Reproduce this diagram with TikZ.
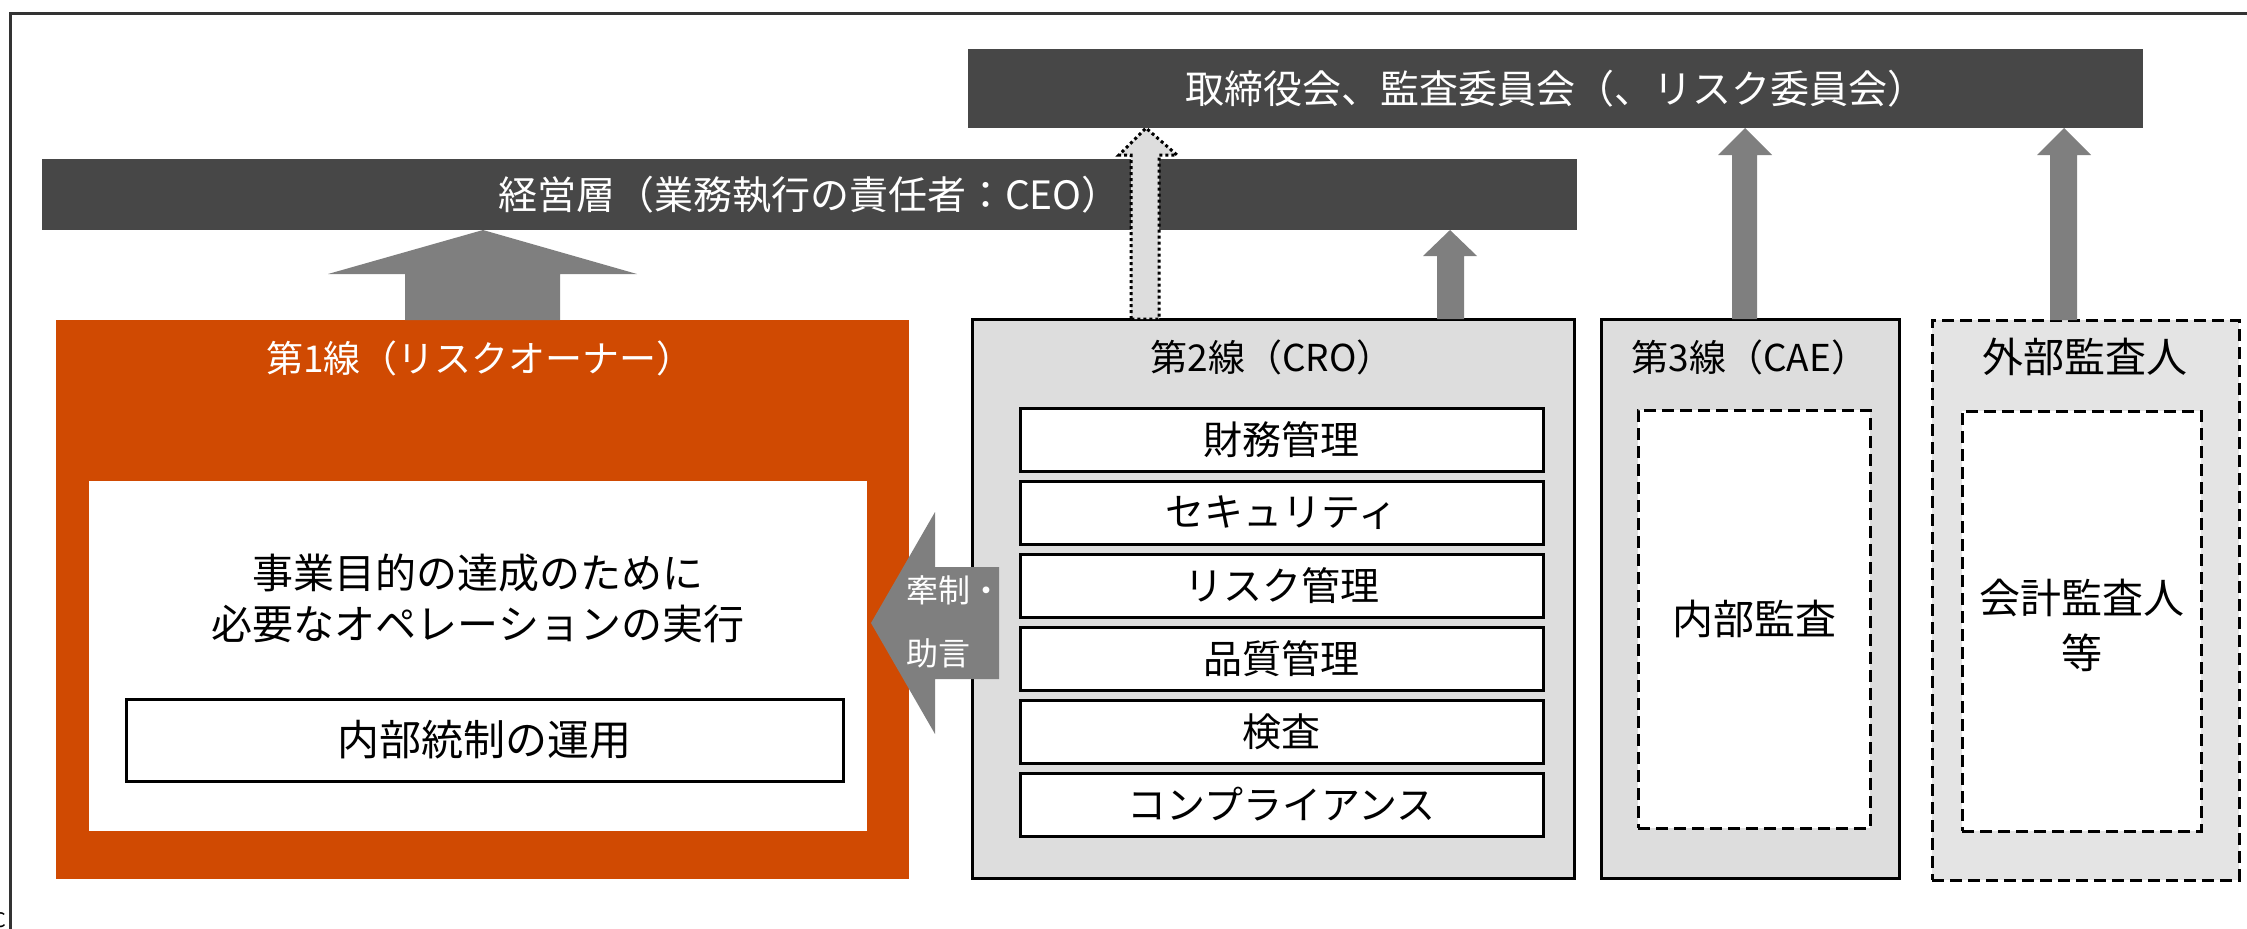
\documentclass[tikz,border=0pt]{standalone}
\usepackage{fontspec}
\setmainfont{Noto Sans CJK JP}
\usetikzlibrary{fit,calc}
\definecolor{bardark}{HTML}{474747}
\definecolor{arrowgray}{HTML}{7F7F7F}
\definecolor{pwcorange}{HTML}{D04A02}
\definecolor{boxgray}{HTML}{DDDDDD}
\definecolor{extgray}{HTML}{E4E4E4}
\definecolor{framegray}{HTML}{333333}
\tikzset{
  region/.style={inner sep=0pt, outer sep=0pt},
  bar/.style={region, fill=bardark},
  bartext/.style={inner sep=0pt, text=white, font=\fontsize{19.5}{22}\selectfont},
  titletext/.style={inner sep=0pt, font=\fontsize{18.5}{22}\selectfont},
  bodytext/.style={inner sep=0pt, font=\fontsize{20.5}{25.5}\selectfont, align=center},
  linebox/.style={region, fill=boxgray, draw=black, line width=1.5pt},
  itembox/.style={region, fill=white, draw=black, line width=1.5pt},
  itemtext/.style={inner sep=0pt, font=\fontsize{19.5}{22}\selectfont},
  dashbox/.style={region, draw=black, line width=1.5pt, dash pattern=on 6pt off 3pt},
  blockarrow/.style={fill=arrowgray, draw=none},
}
\begin{document}
\begin{tikzpicture}[x=0.5pt,y=-0.5pt]
\useasboundingbox (0,0) rectangle (2247,928);
\clip (0,0) rectangle (2247,928);
% outer frame (cut by the page at right and bottom)
\draw[framegray, line width=1.5pt] (10,13) rectangle (2270,960);
\node[anchor=south east, inner sep=0pt, font=\fontsize{10}{10}\selectfont] (cut) at (7,928) {C};

% top bars
\node[bar, fit={(968,49) (2143,128)}] (board) {};
\node[bartext] (boardt) at (board.center) {取締役会、監査委員会（、リスク委員会）};
\node[bar, fit={(42,159) (1577,230)}] (ceo) {};
\node[bartext] (ceot) at (ceo.center) {経営層（業務執行の責任者：CEO）};

% first line
\node[region, fill=pwcorange, fit={(56,320) (909,879)}] (l1) {};
\node[titletext, text=white] (l1t) at (480,358) {第1線（リスクオーナー）};
\node[region, fill=white, fit={(89,481) (867,831)}] (l1in) {};
\node[bodytext] (ops) at (478,598) {事業目的の達成のために\\必要なオペレーションの実行};
\node[region, fill=white, draw=black, line width=1.5pt, fit={(126,699) (843,781)}] (ic) {};
\node[inner sep=0pt, font=\fontsize{21}{22}\selectfont] (ict) at (ic.center) {内部統制の運用};

% second line
\node[linebox, fit={(972,319) (1574,878)}] (l2) {};
\node[titletext] (l2t) at (1272,357) {第2線（CRO）};
\foreach \i/\t in {0/財務管理,1/セキュリティ,2/リスク管理,3/品質管理,4/検査,5/コンプライアンス}{
  \node[itembox, fit={(1020,408+73*\i) (1543,471+73*\i)}] (item\i) {};
  \node[itemtext] (itemt\i) at (item\i.center) {\t};
}

% third line
\node[linebox, fit={(1601,319) (1899,878)}] (l3) {};
\node[titletext] (l3t) at (1750,357) {第3線（CAE）};
\node[dashbox, fill=white, fit={(1638,410) (1870,828)}] (ia) {};
\node[inner sep=0pt, font=\fontsize{20.5}{22}\selectfont] (iat) at (ia.center) {内部監査};

% external auditor
\node[dashbox, fill=extgray, fit={(1932,320) (2239,880)}] (ext) {};
\node[inner sep=0pt, font=\fontsize{20.5}{22}\selectfont] (extt) at (2085,357) {外部監査人};
\node[dashbox, fill=white, fit={(1962,411) (2201,831)}] (ea) {};
\node[inner sep=0pt, font=\fontsize{20.5}{27.5}\selectfont, align=center] (eat) at ($(ea.center)+(0,4)$) {会計監査人\\等};

% arrows
\fill[blockarrow] (405,320) -- (405,274) -- (328,274) -- (483,230) -- (637,274) -- (560,274) -- (560,320) -- cycle;
\fill[blockarrow] (1437,319) -- (1437,256) -- (1423,256) -- (1450,230) -- (1477,256) -- (1464,256) -- (1464,319) -- cycle;
\fill[blockarrow] (1732,319) -- (1732,155) -- (1718,155) -- (1745,128) -- (1772,155) -- (1757,155) -- (1757,319) -- cycle;
\fill[blockarrow] (2050,320) -- (2050,155) -- (2037,155) -- (2064,128) -- (2091,155) -- (2077,155) -- (2077,320) -- cycle;
\draw[fill=boxgray, draw=black, line width=1.5pt, dash pattern=on 1.5pt off 1.5pt]
  (1131,319) -- (1131,155) -- (1119,155) -- (1146,128) -- (1177,155) -- (1159,155) -- (1159,319) -- cycle;

% check and advice arrow
\fill[blockarrow] (999,567) -- (935,567) -- (935,512) -- (871,623) -- (935,734) -- (935,679) -- (999,679) -- cycle;
\node[anchor=west, inner sep=0pt, text=white, font=\fontsize{16}{31.5}\selectfont, align=left] (adv) at (906,622) {牽制・\\助言};
\end{tikzpicture}
\end{document}
